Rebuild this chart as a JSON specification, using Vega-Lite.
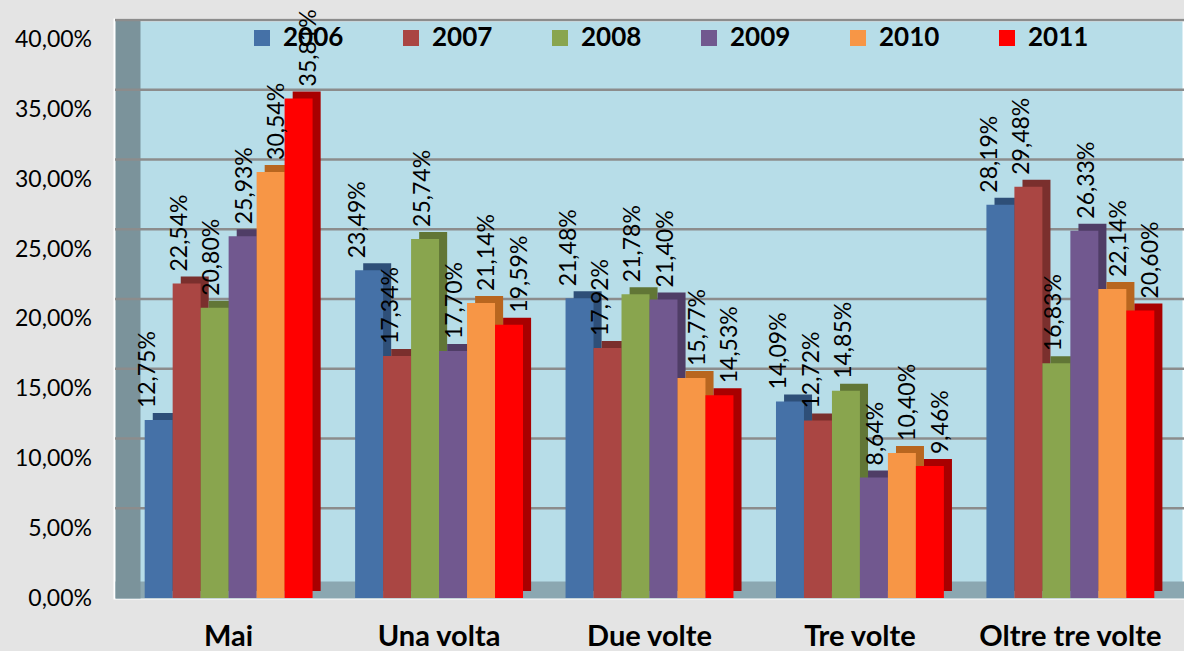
{
  "$schema": "https://vega.github.io/schema/vega-lite/v6.json",
  "width": 1069,
  "height": 578,
  "autosize": {"type": "none"},
  "padding": {"left": 115, "top": 20, "right": 0, "bottom": 53},
  "background": "#e4e4e4",
  "config": {
    "font": "Lato",
    "numberFormat": ".2%",
    "locale": {"number": {"decimal": ",", "thousands": ".", "grouping": [3], "currency": ["", " €"]}},
    "view": {"fill": "#b7dde8", "stroke": "#ffffff", "strokeWidth": 3},
    "axisY": {"domainColor": "#7b939b", "domainWidth": 25, "offset": -12.5, "ticks": false, "tickSize": 0, "grid": false, "labelFontSize": 23, "labelColor": "#000000", "labelPadding": 36, "labelFont": "Lato"},
    "axisX": {"domainColor": "#8ba7b1", "domainWidth": 17, "offset": -8.5, "ticks": false, "tickSize": 0, "grid": false, "labelAngle": 0, "labelFontSize": 29, "labelFontWeight": "bold", "labelColor": "#000000", "labelPadding": 33, "labelFont": "Lato", "labelLimit": 0}
  },
  "data": {"values": [
    {"freq": "Mai", "year": "2006", "v": 0.1275},
    {"freq": "Mai", "year": "2007", "v": 0.2254},
    {"freq": "Mai", "year": "2008", "v": 0.2080},
    {"freq": "Mai", "year": "2009", "v": 0.2593},
    {"freq": "Mai", "year": "2010", "v": 0.3054},
    {"freq": "Mai", "year": "2011", "v": 0.3581},
    {"freq": "Una volta", "year": "2006", "v": 0.2349},
    {"freq": "Una volta", "year": "2007", "v": 0.1734},
    {"freq": "Una volta", "year": "2008", "v": 0.2574},
    {"freq": "Una volta", "year": "2009", "v": 0.1770},
    {"freq": "Una volta", "year": "2010", "v": 0.2114},
    {"freq": "Una volta", "year": "2011", "v": 0.1959},
    {"freq": "Due volte", "year": "2006", "v": 0.2148},
    {"freq": "Due volte", "year": "2007", "v": 0.1792},
    {"freq": "Due volte", "year": "2008", "v": 0.2178},
    {"freq": "Due volte", "year": "2009", "v": 0.2140},
    {"freq": "Due volte", "year": "2010", "v": 0.1577},
    {"freq": "Due volte", "year": "2011", "v": 0.1453},
    {"freq": "Tre volte", "year": "2006", "v": 0.1409},
    {"freq": "Tre volte", "year": "2007", "v": 0.1272},
    {"freq": "Tre volte", "year": "2008", "v": 0.1485},
    {"freq": "Tre volte", "year": "2009", "v": 0.0864},
    {"freq": "Tre volte", "year": "2010", "v": 0.1040},
    {"freq": "Tre volte", "year": "2011", "v": 0.0946},
    {"freq": "Oltre tre volte", "year": "2006", "v": 0.2819},
    {"freq": "Oltre tre volte", "year": "2007", "v": 0.2948},
    {"freq": "Oltre tre volte", "year": "2008", "v": 0.1683},
    {"freq": "Oltre tre volte", "year": "2009", "v": 0.2633},
    {"freq": "Oltre tre volte", "year": "2010", "v": 0.2214},
    {"freq": "Oltre tre volte", "year": "2011", "v": 0.2060}
  ]},
  "layer": [
    {
      "data": {"values": [{"g": 0.05}, {"g": 0.10}, {"g": 0.15}, {"g": 0.20}, {"g": 0.25}, {"g": 0.30}, {"g": 0.35}, {"g": 0.40}]},
      "mark": {"type": "rule", "color": "#8c8c8c", "strokeWidth": 2.5, "yOffset": -20},
      "encoding": {
        "y": {"field": "g", "type": "quantitative", "title": null, "scale": {"domain": [0, 0.4143], "nice": false, "zero": true}}
      }
    },
    {
      "mark": {"type": "bar", "yOffset": -7, "y2Offset": -7},
      "encoding": {
        "x": {"field": "freq", "type": "nominal", "title": null, "sort": ["Mai", "Una volta", "Due volte", "Tre volte", "Oltre tre volte"], "scale": {"paddingInner": 0, "paddingOuter": 0.04}},
        "xOffset": {"field": "year", "type": "nominal", "scale": {"paddingInner": 0, "paddingOuter": 0.76, "align": 0.69}},
        "y": {"field": "v", "type": "quantitative", "title": null, "scale": {"domain": [0, 0.4143], "nice": false}},
        "color": {"field": "year", "type": "nominal", "legend": null, "scale": {"range": ["#2e4f78", "#7a2f2d", "#617636", "#4f3d66", "#b8661f", "#a80000"]}}
      }
    },
    {
      "mark": {"type": "bar"},
      "encoding": {
        "x": {"field": "freq", "type": "nominal", "title": null, "sort": ["Mai", "Una volta", "Due volte", "Tre volte", "Oltre tre volte"], "scale": {"paddingInner": 0, "paddingOuter": 0.04}},
        "xOffset": {"field": "year", "type": "nominal", "scale": {"paddingInner": 0, "paddingOuter": 0.76}},
        "y": {"field": "v", "type": "quantitative", "title": null, "scale": {"domain": [0, 0.4143], "nice": false}, "axis": {"values": [0, 0.05, 0.1, 0.15, 0.2, 0.25, 0.3, 0.35, 0.4], "format": ".2%"}},
        "color": {"field": "year", "type": "nominal", "scale": {"range": ["#4571a7", "#aa4643", "#89a54e", "#71588f", "#f79646", "#ff0000"]},
          "legend": {"orient": "none", "legendX": 134, "legendY": 5, "direction": "horizontal", "title": null, "symbolType": "square", "symbolSize": 256, "symbolStrokeWidth": 0, "labelFontSize": 26, "labelFontWeight": "bold", "labelFont": "Lato", "labelColor": "#000000", "columnPadding": 54, "labelOffset": 8}}
      }
    },
    {
      "mark": {"type": "text", "angle": 270, "align": "left", "baseline": "middle", "dx": 12, "fontSize": 23, "color": "#000000"},
      "encoding": {
        "x": {"field": "freq", "type": "nominal", "title": null, "sort": ["Mai", "Una volta", "Due volte", "Tre volte", "Oltre tre volte"], "scale": {"paddingInner": 0, "paddingOuter": 0.04}},
        "xOffset": {"field": "year", "type": "nominal", "scale": {"paddingInner": 0, "paddingOuter": 0.76}},
        "y": {"field": "v", "type": "quantitative", "title": null, "scale": {"domain": [0, 0.4143], "nice": false}},
        "text": {"field": "v", "type": "quantitative", "format": ".2%"}
      }
    }
  ],
  "resolve": {"scale": {"color": "independent", "xOffset": "independent"}}
}
